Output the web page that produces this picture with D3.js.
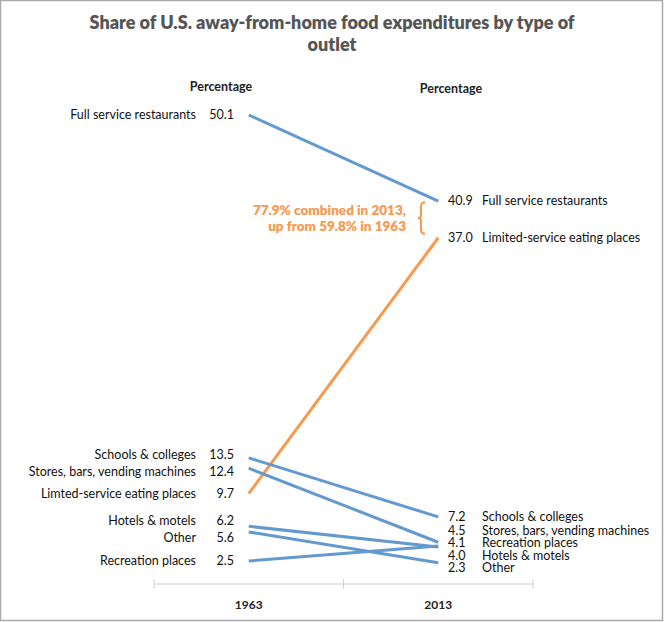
<!DOCTYPE html>
<html><head><meta charset="utf-8">
<script src="https://cdn.jsdelivr.net/npm/d3@7"></script>
<style>
body{margin:0;background:#fff;}
text{font-family:"Source Sans Pro","Lato","Noto Sans",sans-serif;}
</style></head>
<body><svg id="c" width="664" height="622"></svg>
<script>
const years = ["1963", "2013"];
const outlets = ["Full service restaurants", "Limited-service eating places", "Schools & colleges", "Stores, bars, vending machines", "Hotels & motels", "Other", "Recreation places"];
const leftNames = ["Full service restaurants", "Limted-service eating places", "Schools & colleges", "Stores, bars, vending machines", "Hotels & motels", "Other", "Recreation places"];
const values1963 = [50.1, 9.7, 13.5, 12.4, 6.2, 5.6, 2.5];
const values2013 = [40.9, 37.0, 7.2, 4.5, 4.0, 2.3, 4.1];
const highlight = [false, true, false, false, false, false, false];
const titleLines = ["Share of U.S. away-from-home food expenditures by type of", "outlet"];
const annotationLines = ["77.9% combined in 2013,", "up from 59.8% in 1963"];

const blue = "#6399cf", orange = "#f79a4f";
const svg = d3.select("#c");
svg.append("rect").attr("x",0.5).attr("y",0.5).attr("width",662).attr("height",620)
  .attr("fill","none").attr("stroke","#aaa").attr("stroke-width",1.5);

svg.append("g").selectAll("text").data(titleLines).join("text")
  .attr("x",332).attr("y",(d,i)=>29+i*22).attr("text-anchor","middle")
  .attr("font-size",18).attr("font-weight",800).attr("fill","#555").text(d=>d);

const x = d3.scaleBand().domain(years).range([154,533]);
const y = d3.scaleLinear().domain([0,50.1]).range([584.4,115]);
const cx = d => x(d) + x.bandwidth()/2;

// axis
const ax = svg.append("g").attr("transform","translate(0,584)")
  .call(d3.axisBottom(x).tickSize(0).tickPadding(16));
ax.select(".domain").attr("stroke","#d0d0d0").attr("d","M154,0H533");
ax.selectAll(".tick text").attr("font-size",12).attr("font-weight","bold").attr("fill","#222")
  .style("font-family",'"Source Sans Pro","Lato","Noto Sans",sans-serif');
ax.selectAll(".bnd").data([154, 343.5, 533]).join("line").attr("class","bnd")
  .attr("x1",d=>d).attr("x2",d=>d).attr("y1",-5).attr("y2",5).attr("stroke","#d0d0d0");

// headers
svg.append("text").attr("x",221).attr("y",91).attr("text-anchor","middle")
  .attr("font-size",12.5).attr("font-weight","bold").attr("fill","#222").text("Percentage");
svg.append("text").attr("x",451).attr("y",93).attr("text-anchor","middle")
  .attr("font-size",12.5).attr("font-weight","bold").attr("fill","#222").text("Percentage");

const rows = outlets.map((o,i)=>({name:o, left:leftNames[i], v0:values1963[i], v1:values2013[i], hi:highlight[i]}));

// lines
svg.append("g").selectAll("line").data(rows).join("line")
  .attr("x1",cx("1963")).attr("x2",cx("2013"))
  .attr("y1",d=>y(d.v0)).attr("y2",d=>y(d.v1))
  .attr("stroke",d=>d.hi?orange:blue).attr("stroke-width",3).attr("stroke-linecap","butt");

function spread(items, gap){
  const s = items.slice().sort((a,b)=>a.t-b.t);
  s.forEach(d=>d.p=d.t);
  for(let it=0; it<200; it++){
    for(let i=1;i<s.length;i++){
      const d = s[i].p - s[i-1].p;
      if(d<gap){ const m=(gap-d)/2; s[i-1].p-=m; s[i].p+=m; }
    }
  }
  return s;
}
const leftL = spread(rows.map(r=>({r, t:y(r.v0)})), 17);
const rightL = spread(rows.map(r=>({r, t:y(r.v1)})), 12.5);

const lg = svg.append("g").attr("font-size",12.5).attr("fill","#111");
lg.selectAll(".ln").data(leftL).join("text").attr("class","ln")
  .attr("x",196).attr("y",d=>d.p).attr("dy","0.35em").attr("text-anchor","end").text(d=>d.r.left);
lg.selectAll(".lv").data(leftL).join("text").attr("class","lv")
  .attr("x",234).attr("y",d=>d.p).attr("dy","0.35em").attr("text-anchor","end").text(d=>d3.format(".1f")(d.r.v0));
lg.selectAll(".rv").data(rightL).join("text").attr("class","rv")
  .attr("x",448).attr("y",d=>d.p).attr("dy","0.33em").text(d=>d3.format(".1f")(d.r.v1));
lg.selectAll(".rn").data(rightL).join("text").attr("class","rn")
  .attr("x",482).attr("y",d=>d.p).attr("dy","0.33em").text(d=>d.r.name);

// annotation
svg.append("g").selectAll("text").data(annotationLines).join("text")
  .attr("x",406).attr("y",(d,i)=>215+i*16).attr("text-anchor","end")
  .attr("font-size",13.5).attr("font-weight",800).attr("fill",orange).text(d=>d);
const bx=419, by0=y(40.9)+1, by1=y(37.0)-4, bm=(by0+by1)/2;
svg.append("path").attr("fill","none").attr("stroke",orange).attr("stroke-width",2)
  .attr("d",`M${bx+6},${by0} Q${bx+2},${by0} ${bx+2},${by0+4} L${bx+2},${bm-3} Q${bx+2},${bm} ${bx-1},${bm} Q${bx+2},${bm} ${bx+2},${bm+3} L${bx+2},${by1-4} Q${bx+2},${by1} ${bx+6},${by1}`);
</script></body></html>
